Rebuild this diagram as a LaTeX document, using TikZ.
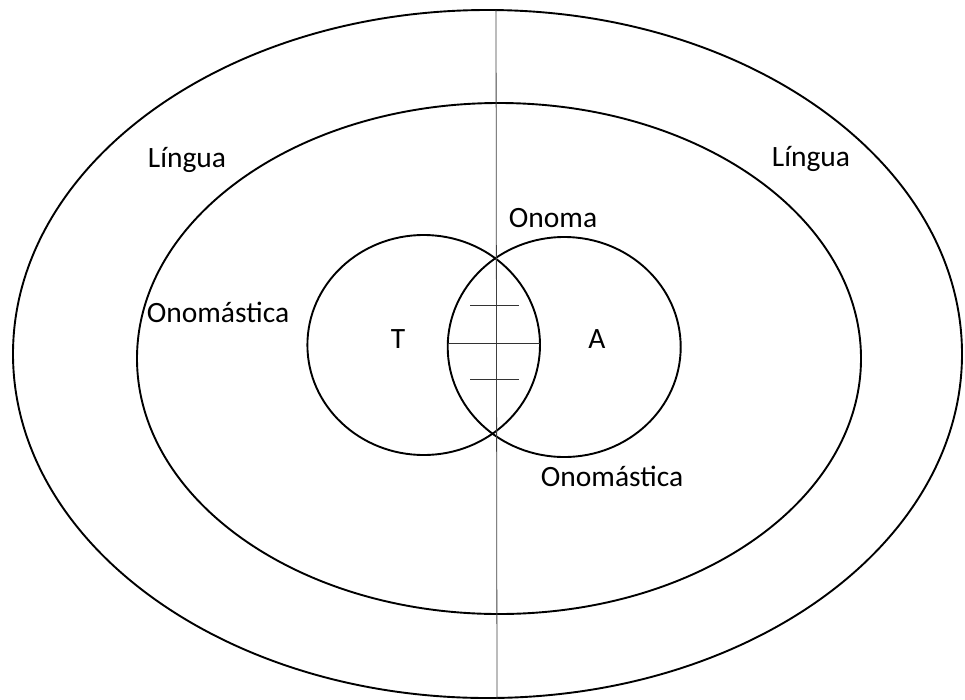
\documentclass[tikz,border=0pt]{standalone}
\usepackage{fontspec}
\setmainfont{Carlito}
\tikzset{
  ring/.style={line width=1.9pt},
  lbl/.style={anchor=base, inner sep=0pt, text=black},
  hatch/.style={line width=0.9pt, black!80}
}
\begin{document}
\begin{tikzpicture}[x=1pt, y=-1pt, font=\fontsize{29.5}{34}\selectfont]
  \useasboundingbox (0,0) rectangle (965,699);
  % outer and inner fields
  \draw[ring] (487.5,354) ellipse [x radius=474.5, y radius=344];
  \draw[ring] (499,358.5) ellipse [x radius=362, y radius=255.5];
  % T and A
  \draw[ring] (423.7,345) ellipse [x radius=116.3, y radius=110];
  \draw[ring] (564.2,347) ellipse [x radius=116.5, y radius=110];
  % divider
  \coordinate (top) at (496,10);
  \coordinate (bot) at (497,699);
  \draw[line width=0.8pt, black!75] (top) -- (bot);
  % lines in the overlap
  \draw[hatch] (448,343.3) -- (540,343.3);
  \foreach \Y in {305.7,379} {
    \draw[hatch] (470,\Y) -- (519,\Y);
  }
  \node[lbl] (lingL) at (187,167) {Língua};
  \node[lbl] (lingR) at (811,166) {Língua};
  \node[lbl] (onoma) at (553,227) {Onoma};
  \node[lbl] (onomL) at (218,322) {Onomástica};
  \node[lbl] (onomR) at (612,486) {Onomástica};
  \node[lbl] (t) at (398,348) {T};
  \node[lbl] (a) at (597,348) {A};
\end{tikzpicture}
\end{document}
